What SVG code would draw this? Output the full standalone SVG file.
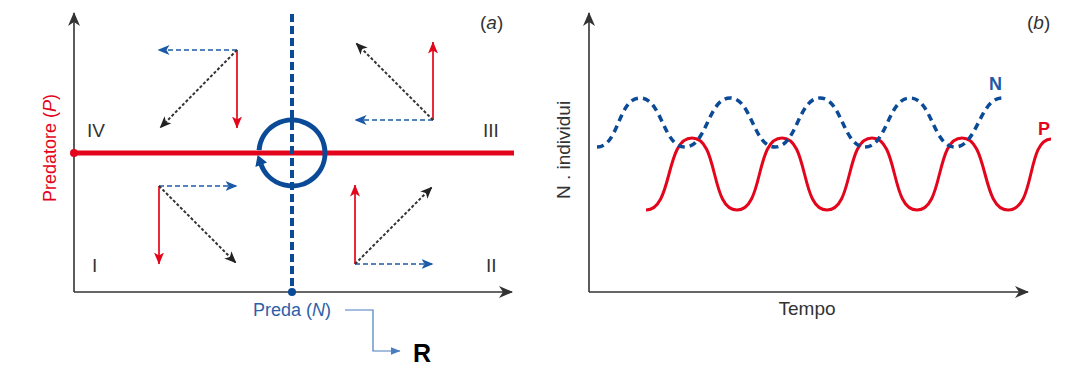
<svg xmlns="http://www.w3.org/2000/svg" width="1082" height="368" viewBox="0 0 1082 368">
<style>
  text { font-family: "Liberation Sans", Arial, sans-serif; }
  .axis { stroke: #333; stroke-width: 1.6; fill: none; }
  .red { stroke: #e3051b; stroke-width: 1.7; fill: none; }
  .blue { stroke: #1c5aa8; stroke-width: 1.7; fill: none; stroke-dasharray: 5 3; }
  .blk { stroke: #333; stroke-width: 2; fill: none; stroke-dasharray: 3 2; }
  .lbl { font-size: 19px; fill: #333; }
</style>
<defs>
  <marker id="ax" viewBox="0 0 14 12" refX="13" refY="6" markerWidth="14" markerHeight="12" markerUnits="userSpaceOnUse" orient="auto">
    <path d="M0,0 L14,6 L0,12 L4,6 z" fill="#333"/>
  </marker>
  <marker id="mr" viewBox="0 0 12 10" refX="11.5" refY="5" markerWidth="12" markerHeight="10" markerUnits="userSpaceOnUse" orient="auto">
    <path d="M0,0 L12,5 L0,10 L3,5 z" fill="#e3051b"/>
  </marker>
  <marker id="mb" viewBox="0 0 12 10" refX="11.5" refY="5" markerWidth="12" markerHeight="10" markerUnits="userSpaceOnUse" orient="auto">
    <path d="M0,0 L12,5 L0,10 L3,5 z" fill="#1c5aa8"/>
  </marker>
  <marker id="mk" viewBox="0 0 12 10" refX="11.5" refY="5" markerWidth="12" markerHeight="10" markerUnits="userSpaceOnUse" orient="auto">
    <path d="M0,0 L12,5 L0,10 L3,5 z" fill="#222"/>
  </marker>
  <marker id="ml" viewBox="0 0 10 8" refX="9.5" refY="4" markerWidth="10" markerHeight="8" markerUnits="userSpaceOnUse" orient="auto">
    <path d="M0,0 L10,4 L0,8 z" fill="#4a7cc0"/>
  </marker>
</defs>

<g id="panel-a">
  <g id="axes-a">
    <line class="axis" x1="74" y1="292" x2="74" y2="13" marker-end="url(#ax)"/>
    <line class="axis" x1="74" y1="292" x2="512" y2="292" marker-end="url(#ax)"/>
  </g>
  <g id="isocline-P">
    <line x1="74" y1="153" x2="514" y2="153" stroke="#e3051b" stroke-width="5"/>
    <circle cx="74" cy="153" r="4" fill="#e3051b"/>
  </g>
  <g id="isocline-N">
    <line x1="292" y1="14" x2="292" y2="290" stroke="#0a4a97" stroke-width="4" stroke-dasharray="8 4"/>
    <circle cx="292" cy="292" r="4" fill="#0a4a97"/>
  </g>
  <g id="cycle">
    <path d="M259.1,150.1 A33,33 0 1 1 261.0,164.3" fill="none" stroke="#0a4a97" stroke-width="5"/>
    <polygon points="257.6,155.0 267.0,162.6 255.4,167.0" fill="#0a4a97"/>
  </g>
  <g id="connectors">
    <g id="q4-arrows">
      <line class="blue" x1="237" y1="50" x2="158" y2="50" marker-end="url(#mb)"/>
      <line class="red" x1="237" y1="50" x2="237" y2="128" marker-end="url(#mr)"/>
      <line class="blk" x1="237" y1="50" x2="160" y2="128" marker-end="url(#mk)"/>
    </g>
    <g id="q3-arrows">
      <line class="red" x1="433" y1="120" x2="433" y2="42" marker-end="url(#mr)"/>
      <line class="blue" x1="433" y1="120" x2="355" y2="120" marker-end="url(#mb)"/>
      <line class="blk" x1="433" y1="120" x2="356" y2="43" marker-end="url(#mk)"/>
    </g>
    <g id="q1-arrows">
      <line class="blue" x1="159" y1="186" x2="237" y2="186" marker-end="url(#mb)"/>
      <line class="red" x1="159" y1="186" x2="159" y2="264" marker-end="url(#mr)"/>
      <line class="blk" x1="159" y1="186" x2="236" y2="263" marker-end="url(#mk)"/>
    </g>
    <g id="q2-arrows">
      <line class="red" x1="355" y1="264" x2="355" y2="185" marker-end="url(#mr)"/>
      <line class="blue" x1="355" y1="264" x2="433" y2="264" marker-end="url(#mb)"/>
      <line class="blk" x1="355" y1="264" x2="432" y2="187" marker-end="url(#mk)"/>
    </g>
    <path d="M345,310 H373 V351 H400" fill="none" stroke="#4a7cc0" stroke-width="1.2" marker-end="url(#ml)"/>
  </g>
  <g id="labels-a">
    <text class="lbl" x="87" y="137">IV</text>
    <text class="lbl" x="483" y="137">III</text>
    <text class="lbl" x="92" y="272">I</text>
    <text class="lbl" x="486" y="272">II</text>
    <text class="lbl" x="480" y="29" font-size="17">(<tspan font-style="italic">a</tspan>)</text>
    <text x="56" y="148" font-size="18" fill="#e3051b" text-anchor="middle" transform="rotate(-90 56 148)">Predatore (<tspan font-style="italic">P</tspan>)</text>
    <text x="292" y="316" font-size="18" fill="#2d5fa8" text-anchor="middle">Preda (<tspan font-style="italic">N</tspan>)</text>
  </g>
  <g id="node-R">
    <text x="413" y="362" font-size="25" font-weight="bold" fill="#000">R</text>
  </g>
</g>

<g id="panel-b">
  <g id="axes-b">
    <line class="axis" x1="589" y1="292" x2="589" y2="13" marker-end="url(#ax)"/>
    <line class="axis" x1="589" y1="292" x2="1028" y2="292" marker-end="url(#ax)"/>
  </g>
  <g id="curve-P">
    <path d="M646,210 C673,210 665,138 692,138 C719,138 710,210 737,210 C764,210 755,138 782,138 C809,138 800,210 827,210 C854,210 845,138 872,138 C899,138 890,210 917,210 C944,210 935,138 962,138 C989,138 981,210 1008,210 C1036,210 1026,140 1051,139" fill="none" stroke="#e3051b" stroke-width="3"/>
  </g>
  <g id="curve-N">
    <path d="M597,147 C619,147 618,98 640,98 C662,98 663,147 685,147 C707,147 708,98 730,98 C752,98 753,147 775,147 C797,147 798,98 820,98 C842,98 843,147 865,147 C887,147 888,98 910,98 C932,98 933,147 955,147 C977,147 980,98 1002,98" fill="none" stroke="#0a4a97" stroke-width="3.5" stroke-dasharray="7 5"/>
  </g>
  <g id="labels-b">
    <text class="lbl" x="1027" y="29" font-size="17">(<tspan font-style="italic">b</tspan>)</text>
    <text x="570" y="150" font-size="19" fill="#333" text-anchor="middle" transform="rotate(-90 570 150)">N . individui</text>
    <text class="lbl" x="807" y="315" text-anchor="middle">Tempo</text>
    <text x="989" y="90" font-size="18" font-weight="bold" fill="#1c5aa8">N</text>
    <text x="1038" y="135" font-size="18" font-weight="bold" fill="#e3051b">P</text>
  </g>
</g>
</svg>
